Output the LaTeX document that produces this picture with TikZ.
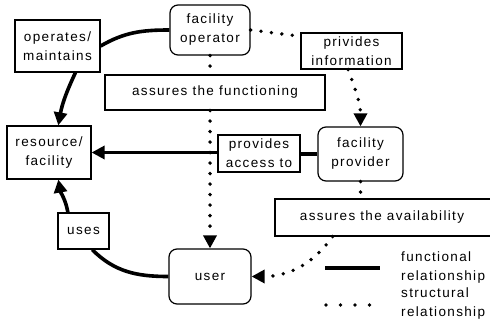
\documentclass[tikz,border=0pt]{standalone}
\usepackage{fontspec}
\setmainfont{Liberation Sans}[LetterSpace=10]
\usepackage{tikz}
\usetikzlibrary{positioning, arrows.meta, calc}
\tikzstyle{lbl} = [rectangle, draw, line width=1.2pt, fill=white, align=center, inner sep=0pt]
\tikzstyle{actor} = [rectangle, rounded corners=8pt, draw, line width=1.2pt, fill=white, align=center, inner sep=0pt]
\tikzstyle{func} = [line width=3.6pt]
\tikzstyle{struct} = [line width=3.8pt, line cap=round, dash pattern=on 0pt off 10.5pt]
\tikzstyle{tip} = [-{Triangle[length=13pt,width=13pt]}]

\begin{document}
\begin{tikzpicture}[x=1pt, y=1pt, font=\fontsize{13.5}{19}\selectfont]
        \useasboundingbox (0,0) rectangle (490,325);
        \node (opr) [actor, minimum width=80pt, minimum height=50pt] at (210,295) {facility\\operator};
        \node (prov) [actor, minimum width=85pt, minimum height=54pt] at (360.5,171) {facility\\provider};
        \node (user) [actor, minimum width=82pt, minimum height=55pt] at (210,48.5) {user};
        \node (res) [lbl, minimum width=84pt, minimum height=53pt] at (49,172.5) {resource/\\facility};
        \node (om) [lbl, minimum width=85pt, minimum height=52pt] at (57.5,279) {operates/\\maintains};
        \node (fun) [lbl, minimum width=220pt, minimum height=35pt] at (215,232.5) {assures the functioning};
        \node (info) [lbl, minimum width=101pt, minimum height=36pt] at (351.5,274) {privides\\information};
        \node (acc) [lbl, minimum width=82pt, minimum height=37pt] at (259,171.5) {provides\\access to};
        \node (avail) [lbl, minimum width=220pt, minimum height=37pt] at (385,107.5) {\hspace{-6pt}assures the availability};
        \node (uses) [lbl, minimum width=51pt, minimum height=36pt] at (83.5,94) {uses};

        % functional relationships
        \draw [func] (opr.west) to[out=180, in=30] (om.east);
        \draw [func, tip] (om.-56) to[out=-115, in=80] (res.71);
        \draw [func] (prov.west) -- (acc.east |- prov.west);
        \draw [func, tip] (acc.west |- res.east) -- (res.east);
        \draw [func] (user.west) to[out=180, in=-45] (uses.-65);
        \draw [func, tip] (uses.130) to[out=100, in=-80] (res.-71);

        % structural relationships
        \draw [struct] (opr.east) -- (info.164);
        \draw [struct, tip] (info.-100) to[out=-70, in=90] (prov.north);
        \draw [struct] (opr.south) -- (opr.south |- fun.north);
        \draw [struct, tip] (opr.south |- fun.south) -- (user.north);
        \draw [struct] (prov.south) -- (prov.south |- avail.north);
        \draw [struct, tip] (avail.200) to[out=-125, in=0] (user.east);

        % legend
        \coordinate (fl) at (325,57);
        \coordinate (fr) at (380,57);
        \coordinate (sl) at (326,20);
        \coordinate (sr) at (370,20);
        \draw [func] (fl) -- (fr);
        \draw [struct, dash pattern=on 0pt off 14.5pt] (sl) -- (sr);
        \node (ftxt) [anchor=west, align=left, inner sep=0pt, right=21pt of fr] {functional\\relationship};
        \node (stxt) [anchor=west, align=left, inner sep=0pt, right=31pt of sr, yshift=1pt] {structural\\relationship};
\end{tikzpicture}
\end{document}
